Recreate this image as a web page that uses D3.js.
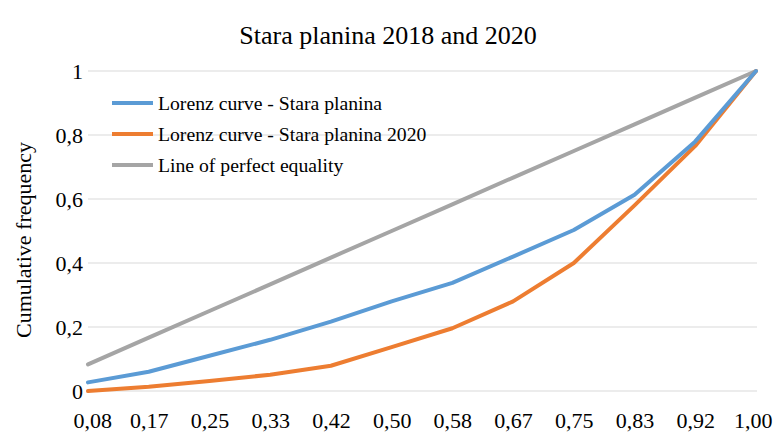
<!DOCTYPE html>
<html><head><meta charset="utf-8">
<script src="https://cdn.jsdelivr.net/npm/d3@7"></script>
<style>body{margin:0;background:#fff}svg{display:block}</style>
</head><body><svg id="c" width="775" height="433"></svg>
<script>
const categories = ["0,08","0,17","0,25","0,33","0,42","0,50","0,58","0,67","0,75","0,83","0,92","1,00"];
const lorenz2018 = [0.027,0.06,0.11,0.16,0.217,0.28,0.338,0.42,0.503,0.613,0.78,1.0];
const lorenz2020 = [0.0,0.013,0.031,0.051,0.079,0.137,0.196,0.28,0.40,0.58,0.766,1.0];
const equality = [0.083,0.167,0.25,0.333,0.417,0.5,0.583,0.667,0.75,0.833,0.917,1.0];
const yTicks = [0,0.2,0.4,0.6,0.8,1];
const seriesNames = ["Lorenz curve - Stara planina","Lorenz curve - Stara planina 2020","Line of perfect equality"];
const colors = ["#5B9BD5","#ED7D31","#A5A5A5"];
const FONT = "'Liberation Serif', 'Times New Roman', 'DejaVu Serif', serif";

const svg = d3.select("#c");
const pLeft = 88, pRight = 756, pTop = 71, pBottom = 391;
const x = d3.scalePoint().domain(categories).range([pLeft, pRight]);
const y = d3.scaleLinear().domain([0,1]).range([pBottom, pTop]);

svg.append("text").attr("x", 388).attr("y", 44).attr("text-anchor","middle")
  .style("font-family", FONT).style("font-size","26px").attr("fill","#000").text("Stara planina 2018 and 2020");

// gridlines
svg.append("g").selectAll("line").data(yTicks).join("line")
  .attr("x1", pLeft).attr("x2", pRight+1).attr("y1", d=>y(d)).attr("y2", d=>y(d))
  .attr("stroke","#D9D9D9").attr("stroke-width",1);

// y axis
const yAxis = d3.axisLeft(y).tickValues(yTicks).tickSize(0).tickPadding(5)
  .tickFormat(d => d3.format("")(d).replace(".", ","));
const gy = svg.append("g").attr("transform",`translate(${pLeft},0)`).call(yAxis);
gy.select(".domain").remove();
gy.attr("font-family", null).attr("font-size", null);
gy.selectAll("text").style("font-family", FONT).style("font-size","22px").attr("fill","#000").attr("dy","0.35em");

// x axis
const xAxis = d3.axisBottom(x).tickSize(0).tickPadding(21);
const gx = svg.append("g").attr("transform",`translate(0,${pBottom})`).call(xAxis);
gx.select(".domain").remove();
gx.attr("font-family", null).attr("font-size", null);
gx.selectAll("text").style("font-family", FONT).style("font-size","22px").attr("fill","#000");
// keep end labels inside the chart area, as the original does
gx.selectAll(".tick").each(function(d){
  const t = d3.select(this).select("text");
  const w = t.node().getComputedTextLength();
  const cx = x(d);
  let shift = 0;
  if (cx - w/2 < 73) shift = 73 - (cx - w/2);
  if (cx + w/2 > 772) shift = 772 - (cx + w/2);
  t.attr("dx", shift);
});

svg.append("text").attr("transform","translate(31,240) rotate(-90)").attr("text-anchor","middle")
  .style("font-family", FONT).style("font-size","22px").attr("fill","#000").text("Cumulative frequency");

const line = d3.line().x((d,i)=>x(categories[i])).y(d=>y(d));
const allSeries = [lorenz2018, lorenz2020, equality];
[2,1,0].forEach(k=>{
  svg.append("path").datum(allSeries[k]).attr("d", line).attr("fill","none")
    .attr("stroke", colors[k]).attr("stroke-width",4).attr("stroke-linejoin","round").attr("stroke-linecap","round");
});

// legend
const lg = svg.append("g");
seriesNames.forEach((n,i)=>{
  const yy = 103 + i*31;
  lg.append("line").attr("x1",112).attr("x2",153).attr("y1",yy).attr("y2",yy)
    .attr("stroke",colors[i]).attr("stroke-width",4);
  lg.append("text").attr("x",158).attr("y",yy).attr("dy","0.35em")
    .style("font-family", FONT).style("font-size","19.7px").attr("fill","#000").text(n);
});
</script></body></html>
